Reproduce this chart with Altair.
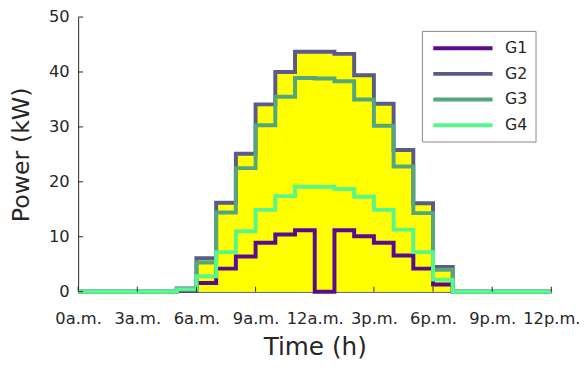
import altair as alt
import pandas as pd

# hourly values (value held from hour h to h+1)
hours = list(range(25))
g1 = [0, 0, 0, 0, 0, 0.2, 1.6, 4.2, 6.4, 8.9, 10.4, 11.2, 0, 11.2, 10.1, 8.9, 6.6, 4.2, 1.3, 0, 0, 0, 0, 0]
g2 = [0, 0, 0, 0, 0, 0.6, 6.1, 16.2, 25.1, 34.1, 40.0, 43.7, 43.7, 43.3, 39.4, 34.2, 25.8, 16.1, 4.5, 0, 0, 0, 0, 0]
g3 = [0, 0, 0, 0, 0, 0.5, 5.3, 14.4, 22.5, 30.3, 35.5, 38.9, 38.8, 38.3, 35.0, 30.2, 22.8, 14.3, 4.0, 0, 0, 0, 0, 0]
g4 = [0, 0, 0, 0, 0, 0.4, 2.8, 7.2, 11.0, 14.9, 17.4, 19.1, 19.1, 18.7, 17.3, 14.9, 11.3, 7.2, 2.2, 0, 0, 0, 0, 0]

series_names = ["G1", "G2", "G3", "G4"]
series_colors = ["#5a0b8f", "#5a5b8a", "#55a67e", "#58f78b"]

x_tick_values = [0, 3, 6, 9, 12, 15, 18, 21, 24]
x_tick_labels = ["0a.m.", "3a.m.", "6a.m.", "9a.m.", "12a.m.", "3p.m.", "6p.m.", "9p.m.", "12p.m."]
y_tick_values = [0, 10, 20, 30, 40, 50]

rows = []
for name, vals in zip(series_names, [g1, g2, g3, g4]):
    ext = vals + [vals[-1]]
    for h, v in zip(hours, ext):
        rows.append({"hour": h, "power": v, "series": name})
df = pd.DataFrame(rows)
df_fill = df[df["series"] == "G2"]

W, H = 479, 278
FONT = "DejaVu Sans"

xscale = alt.Scale(domain=[0, 24], nice=False)
yscale = alt.Scale(domain=[0, 50], nice=False)

label_expr = "[" + ",".join("'%s'" % s for s in x_tick_labels) + "][round(datum.value/3)]"

xaxis = alt.Axis(values=x_tick_values, labelExpr=label_expr, title="Time (h)", ticks=False,
                 grid=False, labelPadding=19, titlePadding=8, labelFlush=False, titleFontSize=25)
yaxis = alt.Axis(values=y_tick_values, title="Power (kW)", ticks=False, grid=False,
                 labelPadding=9, titlePadding=15, titleFontSize=24)

fill = alt.Chart(df_fill).mark_area(interpolate="step-after", color="#FFFF00", opacity=1).encode(
    x=alt.X("hour:Q", scale=xscale, axis=xaxis),
    y=alt.Y("power:Q", scale=yscale, axis=yaxis),
)

lines = alt.Chart(df).mark_line(interpolate="step-after", strokeWidth=4, strokeJoin="miter").encode(
    x=alt.X("hour:Q", scale=xscale),
    y=alt.Y("power:Q", scale=yscale),
    color=alt.Color("series:N", scale=alt.Scale(domain=series_names, range=series_colors),
                    legend=alt.Legend(title=None, orient="none", legendX=348, legendY=14,
                                      symbolType="M-4,0H4", symbolSize=225, symbolStrokeWidth=4,
                                      symbolOffset=24, labelOffset=33,
                                      labelFontSize=16, labelFont=FONT, labelColor="#262626",
                                      strokeColor="#888888", fillColor="white", padding=8,
                                      rowPadding=8)),
)

xt = alt.Chart(pd.DataFrame({"t": x_tick_values})).mark_rule(color="#262626").encode(
    x=alt.X("t:Q", scale=xscale), y=alt.value(H), y2=alt.value(H - 5))
yt = alt.Chart(pd.DataFrame({"t": y_tick_values})).mark_rule(color="#262626").encode(
    y=alt.Y("t:Q", scale=yscale), x=alt.value(0), x2=alt.value(5))

chart = alt.layer(fill, lines, xt, yt).properties(
    width=W, height=H,
    autosize=alt.AutoSizeParams(type="none"),
    padding={"left": 71, "top": 7, "right": 28, "bottom": 69},
).configure_view(stroke=None).configure_axis(
    domainColor="#262626", domainWidth=1, labelFont=FONT, labelFontSize=16.5, labelColor="#262626",
    titleFont=FONT, titleFontWeight="normal", titleColor="#262626",
)

chart.save("out.html", embed_options={"renderer": "svg", "actions": False})
